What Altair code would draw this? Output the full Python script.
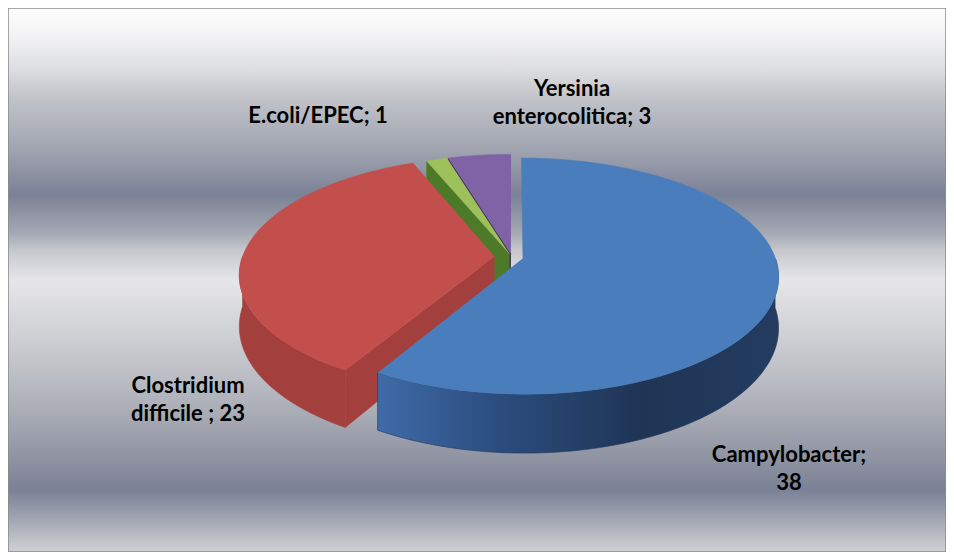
import altair as alt
import pandas as pd

# ---- data ----
categories = ["Campylobacter", "Clostridium difficile", "E.coli/EPEC", "Yersinia enterocolitica"]
values = [38, 23, 1, 3]
label_texts = ["Campylobacter;\n38", "Clostridium\ndifficile ; 23", "E.coli/EPEC; 1", "Yersinia\nenterocolitica; 3"]

# ---- layout / style (not data) ----
W, H = 938, 544
CX, CY, R, RY, DEPTH, PERSP = 512, 257, 252, 115, 50, 0.15
N = 60
explode = {"Campylobacter": 0.045, "Clostridium difficile": 0.07,
           "E.coli/EPEC": 0.03, "Yersinia enterocolitica": 0.03}
label_pos = {"Campylobacter": (789, 462), "Clostridium difficile": (188, 393),
             "E.coli/EPEC": (318, 123), "Yersinia enterocolitica": (572, 96)}
top_col = {"Campylobacter": "#4a7dbb", "Clostridium difficile": "#c24f4c",
           "E.coli/EPEC": "#9dc05a", "Yersinia enterocolitica": "#7f63a6"}
side_col = {"Clostridium difficile": "#a33f3c", "E.coli/EPEC": "#4d7a29",
            "Yersinia enterocolitica": "#3b2d55"}

df = pd.DataFrame({"category": categories, "value": values, "idx": list(range(len(values)))})
df["t"] = [list(range(-1, 2 * N + 2)) for _ in categories]
lab = pd.DataFrame({"category": categories, "text": label_texts})
lab["lx"] = [label_pos[c][0] for c in categories]
lab["ly"] = [label_pos[c][1] for c in categories]


def ternary(d):
    expr = "0"
    for c, v in d.items():
        expr = f"(datum.category == '{c}' ? {v} : {expr})"
    return expr


XS = alt.Scale(domain=[8, 8 + W], nice=False, zero=False)
YS = alt.Scale(domain=[8, 8 + H], nice=False, zero=False, reverse=True)
X = alt.X("px:Q", scale=XS, axis=None)
Y = alt.Y("py:Q", scale=YS, axis=None)

base = (
    alt.Chart(df)
    .transform_joinaggregate(total="sum(value)")
    .transform_window(cum="sum(value)", sort=[alt.SortField("idx")], frame=[None, 0])
    .transform_calculate(
        a0="2*PI*(datum.cum - datum.value)/datum.total",
        a1="2*PI*datum.cum/datum.total",
        ex=ternary(explode),
    )
    .transform_calculate(mid="(datum.a0 + datum.a1) / 2")
    .transform_flatten(["t"])
)


def project(chart, r_expr, ang_expr, low_expr):
    """perspective projection of a point on the tilted disk"""
    return (chart
            .transform_calculate(
                u=f"({r_expr}) * sin({ang_expr}) + datum.ex * sin(datum.mid)",
                v=f"({r_expr}) * cos({ang_expr}) + datum.ex * cos(datum.mid)")
            .transform_calculate(k=f"1 / (1 + {PERSP} * datum.v)")
            .transform_calculate(
                px=f"{CX} + {R} * datum.u * datum.k",
                py=f"{CY} - {RY} * datum.v * datum.k + ({low_expr}) * {DEPTH} * datum.k"))


def poly(chart, fill, stroke):
    return chart.mark_line(fill=fill, stroke=stroke, strokeWidth=0.6, interpolate="linear").encode(
        x=X, y=Y, order=alt.Order("t:Q"))


def top(cat):
    c = (base.transform_filter(alt.datum.category == cat)
         .transform_filter(f"datum.t <= {N}")
         .transform_calculate(ang=f"datum.a0 + (datum.a1 - datum.a0) * max(datum.t, 0) / {N}"))
    c = project(c, "datum.t < 0 ? 0 : 1", "datum.ang", "0")
    return poly(c, top_col[cat], top_col[cat])


def wall(cat, fill, stroke):
    c = (base.transform_filter(alt.datum.category == cat)
         .transform_filter("datum.t >= 0")
         .transform_calculate(b0="max(datum.a0, PI/2)", b1="min(datum.a1, 3*PI/2)")
         .transform_filter("datum.b1 > datum.b0")
         .transform_calculate(s=f"datum.t <= {N} ? datum.t / {N} : ({2 * N + 1} - datum.t) / {N}")
         .transform_calculate(ang="datum.b0 + (datum.b1 - datum.b0) * datum.s"))
    c = project(c, "1", "datum.ang", f"datum.t > {N} ? 1 : 0")
    return poly(c, fill, stroke)


def face(cat):
    c = (base.transform_filter(alt.datum.category == cat)
         .transform_filter("datum.t >= 0 && datum.t <= 3"))
    c = project(c, "datum.t == 1 || datum.t == 2 ? 1 : 0", "datum.a0", "datum.t >= 2 ? 1 : 0")
    return poly(c, side_col[cat], side_col[cat])


bg_grad = alt.Gradient(
    gradient="linear", x1=0, x2=0, y1=0, y2=1,
    stops=[
        alt.GradientStop(offset=0.0, color="#fefefe"),
        alt.GradientStop(offset=0.059, color="#f0f0f2"),
        alt.GradientStop(offset=0.114, color="#dcdde0"),
        alt.GradientStop(offset=0.169, color="#c0c2c8"),
        alt.GradientStop(offset=0.261, color="#a0a4b0"),
        alt.GradientStop(offset=0.344, color="#7b8196"),
        alt.GradientStop(offset=0.414, color="#a5a9b3"),
        alt.GradientStop(offset=0.445, color="#c5c7cc"),
        alt.GradientStop(offset=0.5, color="#e6e6e8"),
        alt.GradientStop(offset=0.597, color="#d0d1d5"),
        alt.GradientStop(offset=0.721, color="#b0b3bb"),
        alt.GradientStop(offset=0.8125, color="#9498a5"),
        alt.GradientStop(offset=0.886, color="#7b8196"),
        alt.GradientStop(offset=0.965, color="#b5b8c0"),
        alt.GradientStop(offset=1.0, color="#d0d1d5"),
    ])

bg = alt.Chart(df).mark_rect(fill=bg_grad, stroke="#8a8a8a", strokeWidth=1.5).encode(
    x=alt.value(0), x2=alt.value(W), y=alt.value(0), y2=alt.value(H))

blue_wall_grad = alt.Gradient(
    gradient="linear", x1=0, x2=1, y1=0, y2=0,
    stops=[
        alt.GradientStop(offset=0.0, color="#3f6ba8"),
        alt.GradientStop(offset=0.3, color="#2b4d7e"),
        alt.GradientStop(offset=0.65, color="#1f3556"),
        alt.GradientStop(offset=1.0, color="#243c60"),
    ])

labels = alt.Chart(lab).mark_text(
    font="Lato", fontWeight="bold", fontSize=22, lineHeight=28, lineBreak="\n",
    align="center", baseline="alphabetic", color="#000000"
).encode(
    x=alt.X("lx:Q", scale=XS, axis=None),
    y=alt.Y("ly:Q", scale=YS, axis=None),
    text="text:N")

chart = alt.layer(
    bg,
    face("Yersinia enterocolitica"), top("Yersinia enterocolitica"),
    face("E.coli/EPEC"), top("E.coli/EPEC"),
    face("Clostridium difficile"),
    wall("Clostridium difficile", side_col["Clostridium difficile"], side_col["Clostridium difficile"]),
    top("Clostridium difficile"),
    wall("Campylobacter", blue_wall_grad, "#22385a"), top("Campylobacter"),
    labels,
).properties(
    width=W, height=H, padding=0, autosize=alt.AutoSizeParams(type="none")
).configure_view(stroke=None)

chart.save("out.html", embed_options={"renderer": "svg", "actions": False})
